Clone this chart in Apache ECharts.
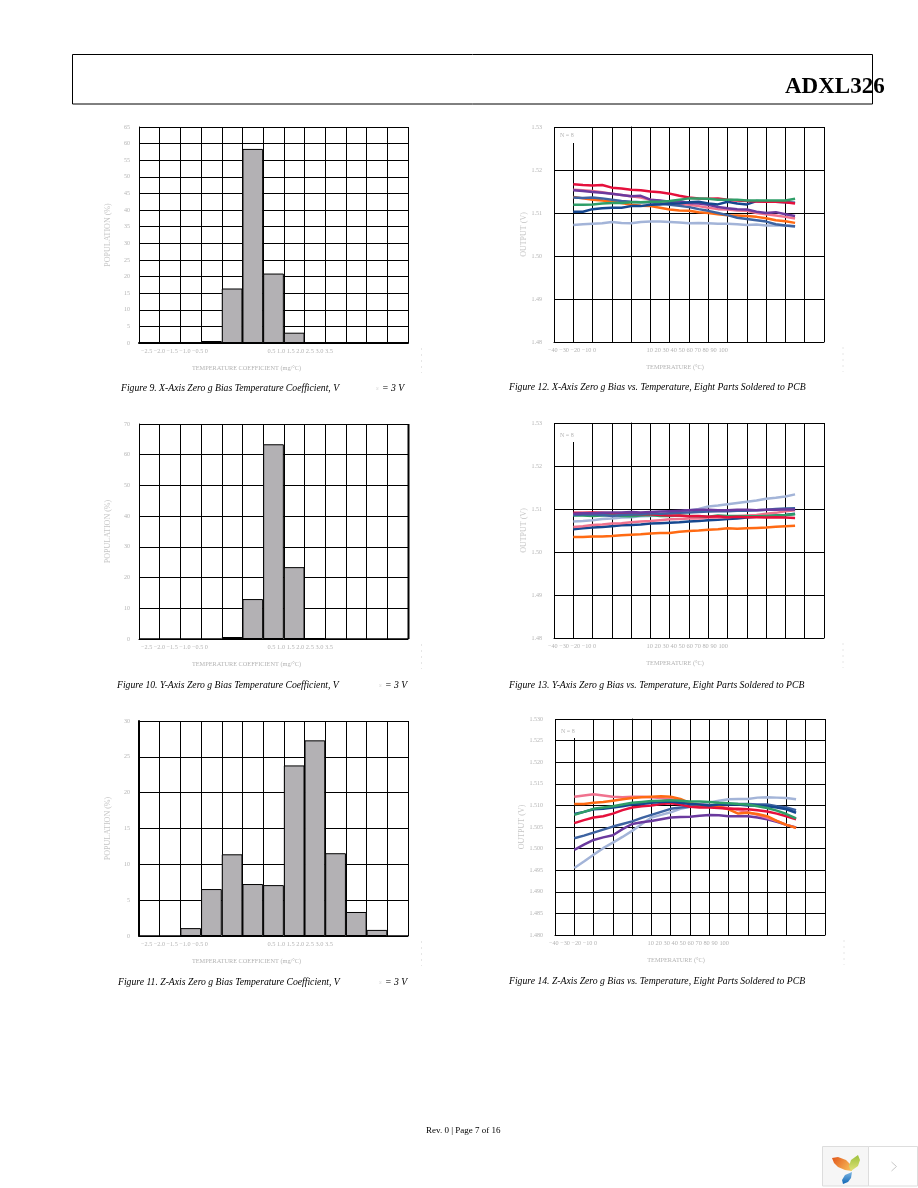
<!DOCTYPE html>
<html>
<head>
<meta charset="utf-8">
<title>ADXL326 page 7</title>
<script src="https://cdn.jsdelivr.net/npm/echarts@6/dist/echarts.min.js"></script>
<style>
  html, body { margin: 0; padding: 0; background: #fff; }
  #page { width: 918px; height: 1188px; }
</style>
</head>
<body>
<div id="page"></div>
<script>
// histogram bins (mg/°C)
const tempCoefBins = ['−2.5', '−2.0', '−1.5', '−1.0', '−0.5', '0', '0.5', '1.0', '1.5', '2.0', '2.5', '3.0', '3.5'];
const xAxisPercent = [0, 0, 0, 0.6, 16.4, 58.4, 20.9, 3.1, 0, 0, 0, 0, 0];
const yAxisPercent = [0, 0, 0, 0, 0.65, 13, 63.4, 23.4, 0.3, 0, 0, 0, 0];
const zAxisPercent = [0, 0, 1.1, 6.55, 11.4, 7.25, 7.1, 23.8, 27.3, 11.55, 3.35, 0.85, 0];

// temperature labels as printed
const tempLabels = ['−40', '−30', '−20', '−10', '0', '10', '20', '30', '40', '50', '60', '70', '80', '90', '100'];
// sample temperatures, °C
const temps = [-30, -25, -20, -15, -10, -5, 0, 5, 10, 15, 20, 25, 30, 35, 40, 45, 50, 55, 60, 65, 70, 75, 80, 85];

// figure 12, X axis output (V)
const xRed = [1.5167, 1.5165, 1.5164, 1.5165, 1.5159, 1.5157, 1.5154, 1.5153, 1.5150, 1.5148, 1.5145, 1.5140, 1.5136, 1.5134, 1.5133, 1.5134, 1.5131, 1.5129, 1.5128, 1.5127, 1.5126, 1.5126, 1.5125, 1.5122];
const xPurple = [1.5153, 1.5151, 1.5149, 1.5147, 1.5145, 1.5142, 1.5139, 1.5140, 1.5131, 1.5129, 1.5126, 1.5128, 1.5123, 1.5122, 1.5119, 1.5114, 1.5111, 1.5109, 1.5108, 1.5103, 1.5100, 1.5102, 1.5097, 1.5093];
const xPink = [1.5154, 1.5153, 1.5151, 1.5148, 1.5145, 1.5142, 1.5139, 1.5136, 1.5131, 1.5128, 1.5125, 1.5122, 1.5119, 1.5116, 1.5112, 1.5109, 1.5108, 1.5106, 1.5105, 1.5100, 1.5097, 1.5094, 1.5091, 1.5087];
const xOrange = [1.5137, 1.5134, 1.5131, 1.5129, 1.5126, 1.5123, 1.5119, 1.5117, 1.5116, 1.5112, 1.5108, 1.5106, 1.5105, 1.5102, 1.5100, 1.5097, 1.5095, 1.5094, 1.5093, 1.5091, 1.5088, 1.5083, 1.5081, 1.5077];
const xSteel = [1.5136, 1.5135, 1.5136, 1.5134, 1.5131, 1.5128, 1.5126, 1.5125, 1.5125, 1.5122, 1.5119, 1.5117, 1.5114, 1.5109, 1.5105, 1.5100, 1.5095, 1.5089, 1.5086, 1.5083, 1.5080, 1.5074, 1.5071, 1.5069];
const xGreen = [1.5119, 1.5119, 1.5120, 1.5122, 1.5123, 1.5123, 1.5125, 1.5125, 1.5126, 1.5126, 1.5128, 1.5131, 1.5134, 1.5134, 1.5133, 1.5131, 1.5131, 1.5131, 1.5129, 1.5129, 1.5129, 1.5129, 1.5129, 1.5133];
const xNavy = [1.5103, 1.5103, 1.5109, 1.5111, 1.5112, 1.5112, 1.5116, 1.5116, 1.5119, 1.5120, 1.5122, 1.5122, 1.5125, 1.5126, 1.5122, 1.5120, 1.5126, 1.5122, 1.5120, 1.5128, 1.5127, 1.5126, 1.5125, 1.5124];
const xPale = [1.5072, 1.5074, 1.5075, 1.5076, 1.5079, 1.5077, 1.5076, 1.5079, 1.5080, 1.5080, 1.5079, 1.5078, 1.5076, 1.5077, 1.5076, 1.5075, 1.5075, 1.5074, 1.5072, 1.5073, 1.5071, 1.5071, 1.5071, 1.5068];

// figure 13, Y axis output (V)
const yRed = [1.5091, 1.5091, 1.5092, 1.5091, 1.5090, 1.5090, 1.5088, 1.5088, 1.5088, 1.5086, 1.5085, 1.5085, 1.5083, 1.5084, 1.5082, 1.5083, 1.5081, 1.5082, 1.5081, 1.5081, 1.5080, 1.5081, 1.5080, 1.5079];
const yPurple = [1.5089, 1.5090, 1.5090, 1.5091, 1.5092, 1.5092, 1.5093, 1.5092, 1.5093, 1.5094, 1.5095, 1.5096, 1.5097, 1.5098, 1.5098, 1.5097, 1.5097, 1.5098, 1.5098, 1.5097, 1.5098, 1.5098, 1.5099, 1.5099];
const yPink = [1.5058, 1.5060, 1.5063, 1.5064, 1.5066, 1.5067, 1.5069, 1.5071, 1.5072, 1.5074, 1.5076, 1.5077, 1.5078, 1.5078, 1.5080, 1.5080, 1.5081, 1.5083, 1.5085, 1.5086, 1.5089, 1.5091, 1.5095, 1.5097];
const yOrange = [1.5035, 1.5035, 1.5036, 1.5036, 1.5037, 1.5039, 1.5040, 1.5041, 1.5043, 1.5044, 1.5044, 1.5047, 1.5049, 1.5050, 1.5052, 1.5053, 1.5055, 1.5054, 1.5055, 1.5056, 1.5057, 1.5059, 1.5060, 1.5061];
const ySteel = [1.5086, 1.5087, 1.5088, 1.5086, 1.5084, 1.5086, 1.5087, 1.5088, 1.5090, 1.5089, 1.5090, 1.5091, 1.5092, 1.5093, 1.5094, 1.5095, 1.5095, 1.5096, 1.5096, 1.5097, 1.5098, 1.5100, 1.5101, 1.5102];
const yGreen = [1.5085, 1.5085, 1.5084, 1.5085, 1.5086, 1.5084, 1.5083, 1.5085, 1.5086, 1.5084, 1.5084, 1.5085, 1.5084, 1.5083, 1.5082, 1.5085, 1.5084, 1.5084, 1.5083, 1.5083, 1.5084, 1.5085, 1.5086, 1.5088];
const yNavy = [1.5053, 1.5055, 1.5057, 1.5058, 1.5060, 1.5062, 1.5063, 1.5064, 1.5066, 1.5067, 1.5068, 1.5069, 1.5071, 1.5072, 1.5074, 1.5075, 1.5077, 1.5078, 1.5080, 1.5082, 1.5084, 1.5085, 1.5086, 1.5089];
const yPale = [1.5071, 1.5072, 1.5074, 1.5077, 1.5078, 1.5080, 1.5081, 1.5083, 1.5084, 1.5086, 1.5089, 1.5094, 1.5097, 1.5100, 1.5106, 1.5108, 1.5111, 1.5114, 1.5117, 1.5120, 1.5124, 1.5126, 1.5129, 1.5134];

// figure 14, Z axis output (V)
const zRed = [1.5059, 1.5066, 1.5072, 1.5075, 1.5081, 1.5089, 1.5095, 1.5098, 1.5100, 1.5103, 1.5105, 1.5102, 1.5097, 1.5095, 1.5095, 1.5094, 1.5092, 1.5092, 1.5091, 1.5089, 1.5086, 1.5081, 1.5075, 1.5068];
const zPurple = [1.4997, 1.5009, 1.5020, 1.5026, 1.5031, 1.5045, 1.5057, 1.5061, 1.5064, 1.5068, 1.5072, 1.5073, 1.5074, 1.5076, 1.5078, 1.5077, 1.5075, 1.5075, 1.5075, 1.5072, 1.5068, 1.5062, 1.5055, 1.5049];
const zPink = [1.5120, 1.5123, 1.5126, 1.5123, 1.5120, 1.5119, 1.5120, 1.5120, 1.5119, 1.5117, 1.5114, 1.5111, 1.5105, 1.5102, 1.5100, 1.5097, 1.5094, 1.5089, 1.5084, 1.5078, 1.5071, 1.5064, 1.5055, 1.5048];
const zOrange = [1.5103, 1.5103, 1.5106, 1.5108, 1.5111, 1.5114, 1.5117, 1.5119, 1.5120, 1.5121, 1.5120, 1.5115, 1.5105, 1.5100, 1.5100, 1.5097, 1.5091, 1.5081, 1.5083, 1.5080, 1.5075, 1.5064, 1.5055, 1.5048];
const zSteel = [1.5024, 1.5030, 1.5037, 1.5044, 1.5051, 1.5057, 1.5063, 1.5071, 1.5078, 1.5085, 1.5092, 1.5095, 1.5097, 1.5098, 1.5099, 1.5102, 1.5103, 1.5103, 1.5103, 1.5102, 1.5102, 1.5098, 1.5095, 1.5089];
const zGreen = [1.5078, 1.5085, 1.5092, 1.5095, 1.5098, 1.5102, 1.5106, 1.5108, 1.5110, 1.5111, 1.5112, 1.5111, 1.5109, 1.5109, 1.5108, 1.5106, 1.5105, 1.5103, 1.5102, 1.5098, 1.5094, 1.5088, 1.5080, 1.5070];
const zNavy = [1.5080, 1.5085, 1.5091, 1.5092, 1.5095, 1.5098, 1.5102, 1.5103, 1.5106, 1.5108, 1.5109, 1.5106, 1.5103, 1.5102, 1.5100, 1.5102, 1.5102, 1.5102, 1.5100, 1.5100, 1.5098, 1.5095, 1.5091, 1.5083];
const zPale = [1.4955, 1.4970, 1.4986, 1.5001, 1.5014, 1.5027, 1.5041, 1.5057, 1.5072, 1.5078, 1.5084, 1.5092, 1.5097, 1.5102, 1.5107, 1.5111, 1.5114, 1.5115, 1.5115, 1.5118, 1.5119, 1.5118, 1.5117, 1.5114];

const partColors = { pale: '#a3b4d8', steel: '#3d63a1', orange: '#ff6a13', pink: '#f0728e', purple: '#6b3a9e', green: '#2f9e68', navy: '#15478f', red: '#e5103c' };

const SERIF = '"Liberation Serif", serif';
const FAINT = '#b4b4b4';

const grids = [], xAxes = [], yAxes = [], seriesList = [], marks = [];

function text(str, x, y, font, fill, align, extra) {
  marks.push(Object.assign({
    type: 'text', x, y, z: 20,
    style: { text: str, font, fill: fill || '#000', align: align || 'left', verticalAlign: 'middle' }
  }, extra));
}

function hLine(x1, y1, x2, y2, stroke, width, dash) {
  marks.push({
    type: 'line', z: 20, shape: { x1, y1, x2, y2 },
    style: { stroke, lineWidth: width, lineDash: dash || null }
  });
}

function yAxisFor(index, cfg) {
  return {
    type: 'value', gridIndex: index, min: cfg.min, max: cfg.max, interval: cfg.step,
    name: cfg.name, nameLocation: 'middle', nameGap: cfg.nameGap,
    nameTextStyle: { color: '#c6c6c6', fontFamily: SERIF, fontSize: 8 },
    axisLine: { show: true, lineStyle: { color: '#000', width: cfg.leftWidth || 1 } },
    axisTick: { show: false },
    axisLabel: {
      color: FAINT, fontFamily: SERIF, fontSize: 6, margin: cfg.margin,
      formatter: v => cfg.digits ? v.toFixed(cfg.digits) : String(v)
    },
    splitLine: { show: true, lineStyle: { color: '#000', width: 1 } }
  };
}

function addHistogram(values, cfg) {
  const i = grids.length;
  grids.push({ left: 139, top: cfg.top, width: 269, height: cfg.height });
  xAxes.push({
    type: 'category', gridIndex: i, data: tempCoefBins,
    axisLine: { show: true, lineStyle: { color: '#000', width: cfg.baseWidth || 1 } },
    axisTick: { show: false }, axisLabel: { show: false },
    splitLine: { show: true, interval: 0, lineStyle: { color: '#000', width: 1 } }
  });
  yAxes.push(yAxisFor(i, {
    min: 0, max: cfg.max, step: cfg.step, name: 'POPULATION (%)', nameGap: 27,
    margin: 9, leftWidth: cfg.leftWidth
  }));
  seriesList.push({
    type: 'bar', xAxisIndex: i, yAxisIndex: i, data: values, barWidth: '100%',
    itemStyle: { color: '#b3b1b4', borderColor: '#000', borderWidth: 1 }
  });
  const labelY = cfg.top + cfg.height + 8.5;
  text(tempCoefBins.slice(0, 6).join(' '), 141, labelY, '6.2px ' + SERIF, FAINT);
  text(tempCoefBins.slice(6).join(' '), 267.5, labelY, '6.4px ' + SERIF, FAINT);
  text('TEMPERATURE COEFFICIENT (mg/°C)', 246.5, cfg.top + cfg.height + 25, '6.3px ' + SERIF, FAINT, 'center');
  hLine(421.5, cfg.top + cfg.height + 5, 421.5, cfg.top + cfg.height + 30, '#e6e6e6', 1, [2, 4]);
}

function addLines(curves, cfg) {
  const i = grids.length;
  grids.push({ left: cfg.left, top: cfg.top, width: 270, height: cfg.height });
  xAxes.push({
    type: 'value', gridIndex: i, min: -40, max: 100, interval: 10,
    axisLine: { show: true, lineStyle: { color: '#000', width: 1 } },
    axisTick: { show: false }, axisLabel: { show: false },
    splitLine: { show: true, lineStyle: { color: '#000', width: 1 } }
  });
  yAxes.push(yAxisFor(i, {
    min: 1.48, max: 1.53, step: cfg.step, digits: cfg.digits, name: 'OUTPUT (V)',
    nameGap: cfg.nameGap, margin: cfg.margin
  }));
  Object.keys(curves).forEach(key => {
    seriesList.push({
      type: 'line', xAxisIndex: i, yAxisIndex: i, showSymbol: false, silent: true,
      data: temps.map((t, k) => [t, curves[key][k]]),
      lineStyle: { color: partColors[key], width: 2.5 }, z: 3
    });
  });
  const labelY = cfg.top + cfg.height + 8.5;
  text(tempLabels.slice(0, 5).join(' '), cfg.left - 6, labelY, '6.2px ' + SERIF, FAINT);
  text(tempLabels.slice(5).join(' '), cfg.left + 92.5, labelY, '6.4px ' + SERIF, FAINT);
  text('TEMPERATURE (°C)', cfg.left + 121, cfg.top + cfg.height + 25, '6.3px ' + SERIF, FAINT, 'center');
  hLine(cfg.left + 289, cfg.top + cfg.height + 5, cfg.left + 289, cfg.top + cfg.height + 30, '#e6e6e6', 1, [2, 4]);
  // N = 8 sits on a white box that breaks the -30 gridline
  marks.push({
    type: 'rect', z: 10, shape: { x: cfg.left + 2, y: cfg.top + 1, width: 23, height: cfg.boxH },
    style: { fill: '#fff' }
  });
  text('N = 8', cfg.left + 6, cfg.top + cfg.labelDy, '6px ' + SERIF, FAINT);
}

function caption(str, x, y, tailX, tail) {
  const font = 'italic 9.7px ' + SERIF;
  text(str, x, y, font);
  if (tail) {
    text('S', tailX - 6, y + 1, 'italic 5px ' + SERIF, '#ccc');
    text(tail, tailX, y, font);
  }
}

addHistogram(xAxisPercent, { top: 127, height: 216, max: 65, step: 5, baseWidth: 2 });
addHistogram(yAxisPercent, { top: 424, height: 215, max: 70, step: 10 });
addHistogram(zAxisPercent, { top: 721, height: 215, max: 30, step: 5, leftWidth: 2 });
hLine(408.5, 424, 408.5, 639, '#000', 2);

addLines({ pale: xPale, orange: xOrange, steel: xSteel, pink: xPink, purple: xPurple, navy: xNavy, red: xRed, green: xGreen },
  { left: 554, top: 127, height: 215, step: 0.01, digits: 2, nameGap: 25, margin: 12, boxH: 15, labelDy: 8.5 });
addLines({ pale: yPale, orange: yOrange, navy: yNavy, pink: yPink, green: yGreen, red: yRed, steel: ySteel, purple: yPurple },
  { left: 554, top: 423, height: 215, step: 0.01, digits: 2, nameGap: 25, margin: 12, boxH: 18, labelDy: 12 });
addLines({ pale: zPale, purple: zPurple, steel: zSteel, pink: zPink, orange: zOrange, red: zRed, navy: zNavy, green: zGreen },
  { left: 555, top: 719, height: 216, step: 0.005, digits: 3, nameGap: 29, margin: 12, boxH: 18, labelDy: 12 });

caption('Figure 9. X-Axis Zero g Bias Temperature Coefficient, V', 121, 388, 382, '= 3 V');
caption('Figure 10. Y-Axis Zero g Bias Temperature Coefficient, V', 117, 685, 385, '= 3 V');
caption('Figure 11. Z-Axis Zero g Bias Temperature Coefficient, V', 118, 982, 385, '= 3 V');
caption('Figure 12. X-Axis Zero g Bias vs. Temperature, Eight Parts Soldered to PCB', 509, 387.5);
caption('Figure 13. Y-Axis Zero g Bias vs. Temperature, Eight Parts Soldered to PCB', 509, 685);
caption('Figure 14. Z-Axis Zero g Bias vs. Temperature, Eight Parts Soldered to PCB', 509, 981);

// page header
marks.push({
  type: 'rect', z: 20, shape: { x: 72.5, y: 54.5, width: 800, height: 49.5 },
  style: { fill: 'none', stroke: '#000', lineWidth: 1 }
});
text('ADXL326', 785, 87, 'bold 23px ' + SERIF);
text('Rev. 0 | Page 7 of 16', 426, 1130.5, '9px ' + SERIF);

// viewer badge, bottom right
marks.push(
  { type: 'rect', z: 20, shape: { x: 822.5, y: 1146.5, width: 46, height: 39.5 }, style: { fill: '#f6f6f6', stroke: '#ddd', lineWidth: 1 } },
  { type: 'rect', z: 20, shape: { x: 868.5, y: 1146.5, width: 49, height: 39.5 }, style: { fill: '#fff', stroke: '#ddd', lineWidth: 1 } },
  { type: 'polygon', z: 21, shape: { points: [[832, 1158], [838, 1157], [846, 1160], [851, 1165], [852, 1171], [845, 1170], [838, 1167], [834, 1163]] },
    style: { fill: { type: 'linear', x: 0, y: 0, x2: 1, y2: 1, colorStops: [{ offset: 0, color: '#e2561b' }, { offset: 1, color: '#f9c55f' }] } } },
  { type: 'polygon', z: 21, shape: { points: [[858, 1155], [860, 1160], [858, 1166], [851, 1171], [849, 1166], [851, 1160]] },
    style: { fill: { type: 'linear', x: 0, y: 0, x2: 0, y2: 1, colorStops: [{ offset: 0, color: '#9cc13c' }, { offset: 1, color: '#e0e27a' }] } } },
  { type: 'polygon', z: 21, shape: { points: [[852, 1172], [851, 1178], [848, 1182], [843, 1184], [842, 1180], [845, 1175]] },
    style: { fill: { type: 'linear', x: 0, y: 1, x2: 0, y2: 0, colorStops: [{ offset: 0, color: '#0d66b5' }, { offset: 1, color: '#7fb7e4' }] } } },
  { type: 'polyline', z: 21, shape: { points: [[891.5, 1162], [896.5, 1166.5], [891.5, 1171]] }, style: { fill: 'none', stroke: '#c8c8c8', lineWidth: 1 } }
);

const chart = echarts.init(document.getElementById('page'));
chart.setOption({
  animation: false,
  backgroundColor: '#fff',
  grid: grids,
  xAxis: xAxes,
  yAxis: yAxes,
  series: seriesList,
  graphic: { elements: marks }
});
</script>
</body>
</html>
